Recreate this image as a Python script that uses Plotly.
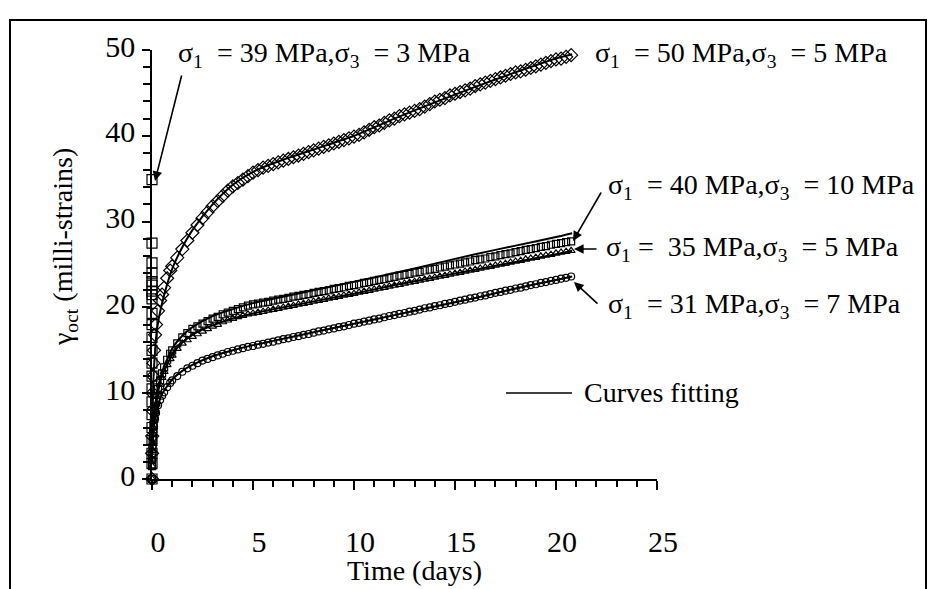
import plotly.graph_objects as go

# ---------------- data ----------------
# shared measurement times (days)
t = [0, 0.005, 0.01, 0.02, 0.03, 0.05, 0.07, 0.1, 0.15, 0.2, 0.3, 0.4, 0.5, 0.6, 0.75, 0.9, 1.0,
     1.25, 1.5, 1.75, 2.0, 2.25, 2.5, 2.75, 3.0, 3.25, 3.5, 3.75, 4.0, 4.25, 4.5, 4.75, 5.0,
     5.25, 5.5, 5.75, 6.0, 6.25, 6.5, 6.75, 7.0, 7.25, 7.5, 7.75, 8.0, 8.25, 8.5, 8.75, 9.0,
     9.25, 9.5, 9.75, 10.0, 10.25, 10.5, 10.75, 11.0, 11.25, 11.5, 11.75, 12.0, 12.25, 12.5, 12.75, 13.0,
     13.25, 13.5, 13.75, 14.0, 14.25, 14.5, 14.75, 15.0, 15.25, 15.5, 15.75, 16.0, 16.25, 16.5, 16.75, 17.0,
     17.25, 17.5, 17.75, 18.0, 18.25, 18.5, 18.75, 19.0, 19.25, 19.5, 19.75, 20.0, 20.25, 20.5, 20.75]

# sigma1 = 50 MPa, sigma3 = 5 MPa (diamonds)
y50_5 = [0, 3, 5, 8, 10, 12, 13.5, 15, 16.8, 18, 19.6, 20.8, 21.5, 22.3, 23.4, 24.3, 24.8,
         25.8, 26.8, 27.8, 28.7, 29.6, 30.4, 31.1, 31.8, 32.4, 33.0, 33.6, 34.1, 34.5, 34.9, 35.3, 35.7,
         36.0, 36.3, 36.5, 36.7, 36.9, 37.1, 37.3, 37.5, 37.7, 37.9, 38.1, 38.3, 38.5, 38.7, 38.9, 39.1,
         39.3, 39.5, 39.7, 39.9, 40.1, 40.4, 40.7, 41.0, 41.2, 41.5, 41.8, 42.0, 42.3, 42.5, 42.7, 42.9,
         43.1, 43.4, 43.7, 44.0, 44.2, 44.4, 44.7, 44.9, 45.1, 45.3, 45.5, 45.8, 46.0, 46.2, 46.4, 46.6,
         46.8, 47.0, 47.2, 47.4, 47.5, 47.7, 47.9, 48.1, 48.3, 48.5, 48.7, 48.9, 49.0, 49.2, 49.4]

# sigma1 = 40 MPa, sigma3 = 10 MPa (squares)
y40_10 = [0, 1.5, 2.5, 3.5, 4.5, 5.5, 6.3, 7.0, 8.0, 9.0, 10.5, 11.5, 12.3, 13.0, 13.9, 14.6, 15.0,
          15.8, 16.5, 17.0, 17.5, 17.8, 18.1, 18.4, 18.7, 18.9, 19.2, 19.4, 19.6, 19.8, 20.0, 20.2, 20.35,
          20.45, 20.55, 20.65, 20.8, 20.9, 21.0, 21.1, 21.25, 21.35, 21.45, 21.55, 21.7, 21.8, 21.9, 22.0, 22.15,
          22.25, 22.35, 22.5, 22.6, 22.7, 22.85, 22.95, 23.1, 23.2, 23.3, 23.45, 23.55, 23.7, 23.8, 23.9, 24.05,
          24.15, 24.3, 24.4, 24.5, 24.65, 24.75, 24.9, 25.0, 25.1, 25.25, 25.35, 25.5, 25.6, 25.7, 25.85, 25.95,
          26.1, 26.2, 26.3, 26.45, 26.55, 26.7, 26.8, 26.9, 27.05, 27.15, 27.3, 27.4, 27.5, 27.6, 27.7]

# sigma1 = 35 MPa, sigma3 = 5 MPa (triangles)
y35_5 = [0, 1.5, 2.3, 3.3, 4.2, 5.2, 6.0, 6.8, 7.8, 8.7, 10.0, 11.0, 11.8, 12.5, 13.3, 14.0, 14.4,
         15.2, 15.8, 16.2, 16.6, 16.9, 17.2, 17.5, 17.8, 18.0, 18.3, 18.5, 18.7, 18.9, 19.05, 19.2, 19.3,
         19.4, 19.5, 19.65, 19.75, 19.85, 20.0, 20.1, 20.2, 20.35, 20.45, 20.55, 20.7, 20.8, 20.9, 21.05, 21.15,
         21.25, 21.4, 21.5, 21.6, 21.75, 21.85, 21.95, 22.1, 22.2, 22.3, 22.45, 22.55, 22.65, 22.8, 22.9, 23.0,
         23.15, 23.25, 23.35, 23.5, 23.6, 23.7, 23.85, 23.95, 24.05, 24.2, 24.3, 24.4, 24.55, 24.65, 24.75, 24.9,
         25.0, 25.1, 25.25, 25.35, 25.45, 25.6, 25.7, 25.8, 25.95, 26.05, 26.15, 26.3, 26.4, 26.5, 26.6]

# sigma1 = 31 MPa, sigma3 = 7 MPa (circles)
y31_7 = [0, 1.5, 2.2, 3.0, 3.8, 4.7, 5.4, 6.1, 7.0, 7.7, 8.6, 9.2, 9.7, 10.1, 10.7, 11.2, 11.5,
         12.0, 12.5, 12.9, 13.2, 13.5, 13.8, 14.0, 14.2, 14.4, 14.6, 14.8, 14.95, 15.1, 15.25, 15.4, 15.5,
         15.65, 15.75, 15.9, 16.0, 16.15, 16.3, 16.4, 16.55, 16.65, 16.8, 16.9, 17.05, 17.2, 17.3, 17.45, 17.55,
         17.7, 17.8, 17.95, 18.1, 18.2, 18.35, 18.45, 18.6, 18.7, 18.85, 19.0, 19.1, 19.25, 19.35, 19.5, 19.6,
         19.75, 19.9, 20.0, 20.15, 20.25, 20.4, 20.5, 20.65, 20.8, 20.9, 21.05, 21.15, 21.3, 21.4, 21.55, 21.7,
         21.8, 21.95, 22.05, 22.2, 22.3, 22.45, 22.6, 22.7, 22.85, 22.95, 23.1, 23.2, 23.35, 23.45, 23.6]

# sigma1 = 39 MPa, sigma3 = 3 MPa (squares, short test at t ~ 0)
y39_3 = [0, 1.8, 3, 4.5, 6, 7.5, 9, 10.5, 12, 13.5, 15, 16.5, 18, 19.3, 21.0, 21.5, 21.9,
         22.6, 23.0, 24.0, 25.2, 27.5, 34.9]
t39_3 = [0.0 for _ in y39_3]

# fitted curves
t_fit = [0, 0.05, 0.1, 0.25, 0.5, 1, 1.5, 2, 3, 4, 5, 6, 8, 10, 12, 14, 16, 18, 20, 20.8]
fit50_5 = [2, 10, 13, 17.5, 20.5, 24.5, 27, 29, 32, 34.3, 35.8, 36.8, 38.4, 40, 42, 43.9, 45.7, 47.4, 49, 49.5]
fit40_10 = [3, 6, 7.5, 10, 12.5, 15.2, 16.7, 17.7, 19.0, 19.8, 20.5, 21.0, 22.0, 23.0, 24.0, 25.1, 26.2, 27.2, 28.2, 28.65]
fit35_5 = [3, 5.5, 7, 9.5, 12, 14.5, 15.9, 16.8, 17.9, 18.7, 19.3, 19.8, 20.7, 21.6, 22.6, 23.5, 24.4, 25.3, 26.2, 26.6]
fit31_7 = [3, 5, 6.2, 8.2, 9.9, 11.6, 12.6, 13.3, 14.3, 15.0, 15.6, 16.1, 17.1, 18.1, 19.1, 20.1, 21.1, 22.2, 23.2, 23.6]

for arr in (y50_5, y40_10, y35_5, y31_7):
    assert len(arr) == len(t), len(arr)
for arr in (fit50_5, fit40_10, fit35_5, fit31_7):
    assert len(arr) == len(t_fit)

labels = {
    "39_3": "σ<sub>1</sub>\u00a0\u00a0= 39 MPa,σ<sub>3</sub>\u00a0\u00a0= 3 MPa",
    "50_5": "σ<sub>1</sub>\u00a0\u00a0= 50 MPa,σ<sub>3</sub>\u00a0\u00a0= 5 MPa",
    "40_10": "σ<sub>1</sub>\u00a0\u00a0= 40 MPa,σ<sub>3</sub>\u00a0\u00a0= 10 MPa",
    "35_5": "σ<sub>1</sub> =\u00a0\u00a035 MPa,σ<sub>3</sub>\u00a0\u00a0= 5 MPa",
    "31_7": "σ<sub>1</sub>\u00a0\u00a0= 31 MPa,σ<sub>3</sub>\u00a0\u00a0= 7 MPa",
}

# ---------------- figure ----------------
W, H = 933, 589
ML, MR, MT, MB = 152, 276, 50, 110
PW, PH = W - ML - MR, H - MT - MB
FONT = "Liberation Serif"
FS = 28
TFS = 30


def px(xp):
    return (xp - ML) / PW


def py(yp):
    return (H - MB - yp) / PH


fig = go.Figure()

def marker_trace(x, y, symbol, size):
    fig.add_trace(go.Scatter(
        x=x, y=y, mode="markers", cliponaxis=False, showlegend=False,
        marker=dict(symbol=symbol, size=size, color="black", line=dict(width=1.2, color="black")),
    ))

marker_trace(t, y50_5, "diamond-open", 10)
marker_trace(t, y40_10, "square-open", 7)
marker_trace(t, y35_5, "triangle-up-open", 7)
marker_trace(t, y31_7, "circle-open", 7)
marker_trace(t39_3, y39_3, "square-open", 10)

for f in (fit50_5, fit40_10, fit35_5, fit31_7):
    fig.add_trace(go.Scatter(
        x=t_fit, y=f, mode="lines", cliponaxis=False, showlegend=False,
        line=dict(color="black", width=2, shape="spline", smoothing=0.6),
    ))

ann = []
def text_ann(s, xp, yp, size=FS, angle=0, xanchor="left"):
    ann.append(dict(text=s, x=px(xp), y=py(yp), xref="paper", yref="paper",
                    xanchor=xanchor, yanchor="middle", showarrow=False, textangle=angle,
                    font=dict(family=FONT, size=size, color="black")))

def arrow_ann(x_head, y_head, x_tail, y_tail):
    ann.append(dict(text="", x=px(x_head), y=py(y_head), xref="paper", yref="paper",
                    ax=x_tail - x_head, ay=y_tail - y_head, showarrow=True,
                    arrowhead=2, arrowsize=1.2, arrowwidth=1.6, arrowcolor="black"))

text_ann(labels["39_3"], 176, 54)
text_ann(labels["50_5"], 593, 54)
text_ann(labels["40_10"], 606, 186)
text_ann(labels["35_5"], 604, 248)
text_ann(labels["31_7"], 606, 305)
text_ann("Curves fitting", 582, 392)

arrow_ann(155, 181, 182, 74)
arrow_ann(573, 241, 602, 191)
arrow_ann(574, 249, 598, 249)
arrow_ann(574, 282, 599, 305)

text_ann("γ<sub>oct</sub> (milli-strains)", 64, 247, angle=-90, xanchor="center")
text_ann("Time (days)", 414, 570, xanchor="center")

shapes = [
    dict(type="line", xref="paper", yref="paper", x0=px(506), x1=px(572), y0=py(393), y1=py(393),
         line=dict(color="black", width=1.5)),
    dict(type="rect", xref="paper", yref="paper", x0=px(10), x1=px(926), y0=py(620), y1=py(20),
         line=dict(color="black", width=2), layer="above"),
]

fig.update_layout(
    width=W, height=H, margin=dict(l=ML, r=MR, t=MT, b=MB),
    paper_bgcolor="white", plot_bgcolor="white",
    font=dict(family=FONT, size=FS, color="black"),
    annotations=ann, shapes=shapes, showlegend=False,
)
fig.update_xaxes(
    range=[0, 25], tickmode="array", tickvals=[0, 5, 10, 15, 20, 25],
    ticks="outside", ticklen=9, tickwidth=1.5, tickcolor="black",
    minor=dict(dtick=1, ticks="outside", ticklen=6, tickwidth=1.5, tickcolor="black"),
    showline=True, linecolor="black", linewidth=1.5, showgrid=False, zeroline=False,
    tickfont=dict(family=FONT, size=TFS), ticklabelstandoff=26, ticklabelshift=6,
)
fig.update_yaxes(
    range=[0, 50], tickmode="array", tickvals=[0, 10, 20, 30, 40, 50],
    ticks="outside", ticklen=8, tickwidth=1.5, tickcolor="black",
    minor=dict(dtick=2, ticks="outside", ticklen=7, tickwidth=1.5, tickcolor="black"),
    showline=True, linecolor="black", linewidth=1.5, showgrid=False, zeroline=False,
    tickfont=dict(family=FONT, size=TFS), ticklabelstandoff=1, ticklabelshift=-4,
)

fig.write_html("out.html")
